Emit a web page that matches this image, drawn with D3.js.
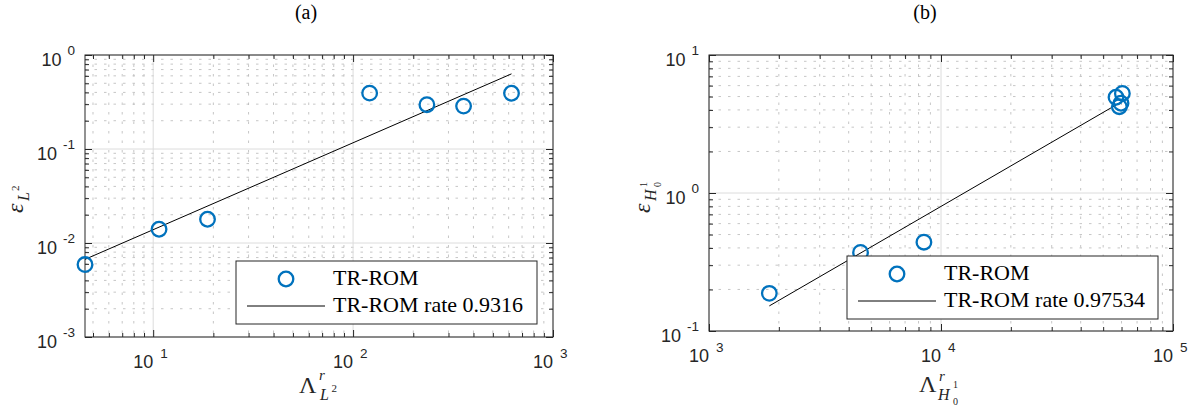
<!DOCTYPE html>
<html>
<head>
<meta charset="utf-8">
<script src="https://cdn.jsdelivr.net/npm/d3@7"></script>
<style>
  body { margin: 0; background: #fff; }
</style>
</head>
<body>
<svg id="chart" width="1197" height="409"></svg>
<script>
// panel (a): L2 error vs Lambda
const lambdaL2 = [4.56, 10.7, 18.7, 121, 234, 357, 620];
const errL2 = [0.0059, 0.0140, 0.0179, 0.393, 0.296, 0.286, 0.392];
const fitL2X = [4.56, 620];
const fitL2Y = [0.0067, 0.63];
const rateL2 = "0.9316";

// panel (b): H1_0 error vs Lambda
const lambdaH1 = [1820, 4500, 8440, 60500, 56800, 59700, 58700];
const errH1 = [0.1875, 0.371, 0.44, 5.27, 4.94, 4.47, 4.22];
const fitH1X = [1820, 60100];
const fitH1Y = [0.152, 4.59];
const rateH1 = "0.97534";

const seriesName = "TR-ROM";

const svg = d3.select("#chart");
const axisColor = "#262626";
const markerColor = "#0072BD";
const serif = "Liberation Serif, Times New Roman, serif";
const sans = "Liberation Sans, Arial, sans-serif";

function logTicks(domain) {
  const major = [], minor = [];
  const e0 = Math.floor(Math.log10(domain[0])), e1 = Math.ceil(Math.log10(domain[1]));
  for (let e = e0; e <= e1; e++) {
    for (let k = 1; k <= 9; k++) {
      const v = k * Math.pow(10, e);
      if (v < domain[0] * 0.9999 || v > domain[1] * 1.0001) continue;
      (k === 1 ? major : minor).push(v);
    }
  }
  return { major, minor };
}

function drawPanel(p) {
  const x = d3.scaleLog().domain(p.xDomain).range([p.left, p.right]);
  const y = d3.scaleLog().domain(p.yDomain).range([p.bottom, p.top]);
  const xt = logTicks(p.xDomain), yt = logTicks(p.yDomain);
  const g = svg.append("g");

  // grid: dotted minor, solid light major
  const grid = g.append("g");
  grid.selectAll(".xminor").data(xt.minor).join("line")
    .attr("x1", d => x(d)).attr("x2", d => x(d))
    .attr("y1", p.top).attr("y2", p.bottom)
    .attr("stroke", "#b8b8b8").attr("stroke-width", 0.8).attr("stroke-dasharray", "2.5,7");
  grid.selectAll(".yminor").data(yt.minor).join("line")
    .attr("x1", p.left).attr("x2", p.right)
    .attr("y1", d => y(d)).attr("y2", d => y(d))
    .attr("stroke", "#b8b8b8").attr("stroke-width", 0.8).attr("stroke-dasharray", "2.5,7");
  grid.selectAll(".xmajor").data(xt.major).join("line")
    .attr("x1", d => x(d)).attr("x2", d => x(d))
    .attr("y1", p.top).attr("y2", p.bottom)
    .attr("stroke", "#dcdcdc").attr("stroke-width", 1);
  grid.selectAll(".ymajor").data(yt.major).join("line")
    .attr("x1", p.left).attr("x2", p.right)
    .attr("y1", d => y(d)).attr("y2", d => y(d))
    .attr("stroke", "#dcdcdc").attr("stroke-width", 1);

  // axes with inward ticks on all four sides
  const axes = [
    [d3.axisBottom(x), `translate(0,${p.bottom})`, xt],
    [d3.axisTop(x), `translate(0,${p.top})`, xt],
    [d3.axisLeft(y), `translate(${p.left},0)`, yt],
    [d3.axisRight(y), `translate(${p.right},0)`, yt]
  ];
  axes.forEach(([ax, tr, t]) => {
    g.append("g").attr("transform", tr).attr("color", axisColor)
      .call(ax.tickValues(t.minor).tickSizeInner(-4).tickSizeOuter(0).tickFormat(""))
      .call(a => a.select(".domain").remove());
    g.append("g").attr("transform", tr).attr("color", axisColor)
      .call(ax.tickValues(t.major).tickSizeInner(-7).tickSizeOuter(0).tickFormat(""))
      .call(a => a.select(".domain").remove());
  });
  g.append("rect")
    .attr("x", p.left).attr("y", p.top)
    .attr("width", p.right - p.left).attr("height", p.bottom - p.top)
    .attr("fill", "none").attr("stroke", axisColor).attr("stroke-width", 1);

  // tick labels 10^n
  xt.major.forEach(v => {
    const e = Math.round(Math.log10(v));
    g.append("text").attr("x", x(v)).attr("y", p.bottom + 31)
      .attr("text-anchor", "end").attr("font-family", sans)
      .attr("font-size", 18).attr("fill", axisColor).text("10");
    g.append("text").attr("x", x(v) + 7).attr("y", p.bottom + 21)
      .attr("font-family", sans)
      .attr("font-size", 13.5).attr("fill", axisColor).text(e);
  });
  yt.major.forEach(v => {
    const e = Math.round(Math.log10(v));
    const t = g.append("text").attr("x", p.left - 10).attr("y", y(v) + 11)
      .attr("text-anchor", "end").attr("font-family", sans)
      .attr("font-size", 18).attr("fill", axisColor);
    t.append("tspan").text("10");
    t.append("tspan").attr("dx", 6).attr("dy", -11).attr("font-size", 13.5).text(e);
  });

  // fit line and markers
  const fit = p.fitX.map((d, i) => [d, p.fitY[i]]);
  g.append("path").datum(fit)
    .attr("fill", "none").attr("stroke", "#000").attr("stroke-width", 1)
    .attr("d", d3.line().x(d => x(d[0])).y(d => y(d[1])));
  g.selectAll(".pt").data(p.xs.map((d, i) => [d, p.ys[i]])).join("circle")
    .attr("cx", d => x(d[0])).attr("cy", d => y(d[1])).attr("r", 7.3)
    .attr("fill", "none").attr("stroke", markerColor).attr("stroke-width", 2.3);

  // legend
  const lg = g.append("g").attr("transform", `translate(${p.right - p.legW - p.legR},${p.bottom - 63 - p.legB})`);
  lg.append("rect").attr("width", p.legW).attr("height", 63)
    .attr("fill", "#fff").attr("stroke", axisColor).attr("stroke-width", 1);
  lg.append("circle").attr("cx", 50).attr("cy", 18).attr("r", 7.3)
    .attr("fill", "none").attr("stroke", markerColor).attr("stroke-width", 2.3);
  lg.append("line").attr("x1", 11).attr("x2", 89).attr("y1", 45).attr("y2", 45)
    .attr("stroke", "#000").attr("stroke-width", 1);
  lg.append("text").attr("x", 97).attr("y", 24).attr("font-family", serif)
    .attr("font-size", 22).attr("fill", "#000").text(seriesName);
  lg.append("text").attr("x", 97).attr("y", 51).attr("font-family", serif)
    .attr("font-size", 22).attr("fill", "#000").text(`${seriesName} rate ${p.rate}`);

  // title
  g.append("text").attr("x", p.titleX).attr("y", 19).attr("text-anchor", "middle")
    .attr("font-family", serif).attr("font-size", 20).attr("fill", "#000").text(p.title);
  return { g, cx: (p.left + p.right) / 2 };
}

function txt(parent, x, y, s, size, italic) {
  return parent.append("text").attr("x", x).attr("y", y)
    .attr("font-family", serif).attr("font-size", size)
    .attr("font-style", italic ? "italic" : "normal").attr("fill", "#262626").text(s);
}

// panel (a)
const a = drawPanel({
  left: 85, right: 553, top: 55, bottom: 337,
  xDomain: [d3.min(lambdaL2), 1000], yDomain: [1e-3, 1],
  xs: lambdaL2, ys: errL2, fitX: fitL2X, fitY: fitL2Y, rate: rateL2,
  legW: 301, legR: 16, legB: 13, title: "(a)", titleX: 306
});
txt(a.g, a.cx - 20, 393, "\u039B", 24, false);
txt(a.g, a.cx, 380, "r", 15, true);
txt(a.g, a.cx + 1, 400, "L", 16, true);
txt(a.g, a.cx + 12.5, 392, "2", 11, false);
const ya = a.g.append("g").attr("transform", "translate(23,213) rotate(-90)");
txt(ya, 0, 0, "\u03B5", 24, true);
txt(ya, 12, 6, "L", 16, true);
txt(ya, 22, -4, "2", 11, false);

// panel (b)
const b = drawPanel({
  left: 709, right: 1173, top: 55, bottom: 331,
  xDomain: [1e3, 1e5], yDomain: [0.1, 10],
  xs: lambdaH1, ys: errH1, fitX: fitH1X, fitY: fitH1Y, rate: rateH1,
  legW: 311, legR: 15, legB: 12, title: "(b)", titleX: 925
});
txt(b.g, b.cx - 22, 392, "\u039B", 24, false);
txt(b.g, b.cx - 2, 381, "r", 15, true);
txt(b.g, b.cx - 3, 400, "H", 16, true);
txt(b.g, b.cx + 12, 388, "1", 10, false);
txt(b.g, b.cx + 12, 405, "0", 10, false);
const yb = b.g.append("g").attr("transform", "translate(650,213) rotate(-90)");
txt(yb, 0, 0, "\u03B5", 24, true);
txt(yb, 12, 6, "H", 16, true);
txt(yb, 26, -3, "1", 10, false);
txt(yb, 26, 11, "0", 10, false);
</script>
</body>
</html>
